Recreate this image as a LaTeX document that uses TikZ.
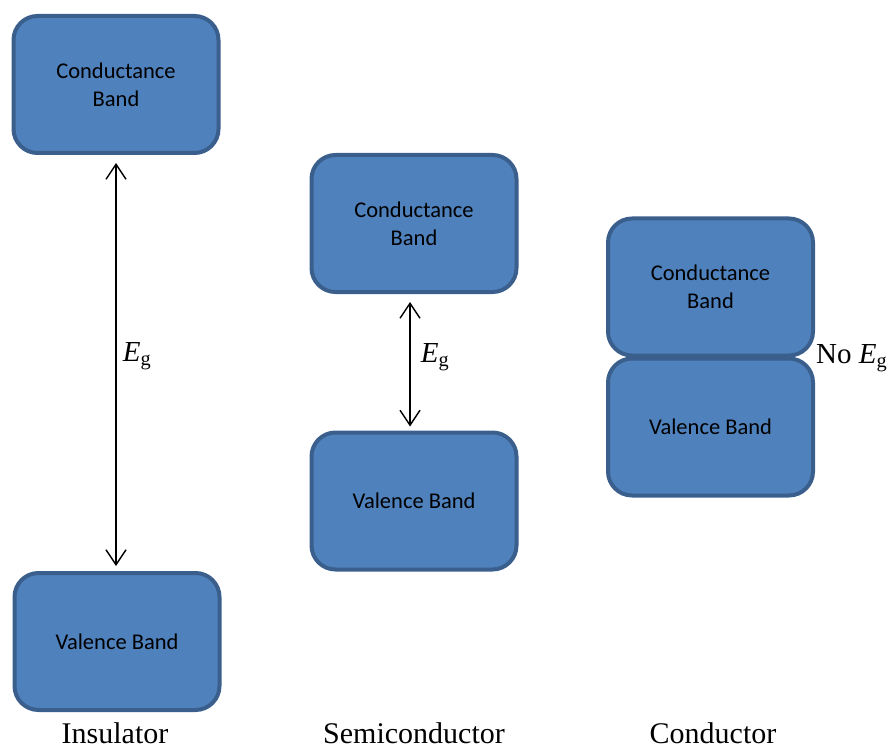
\documentclass[tikz,border=0pt]{standalone}
\usepackage{fontspec}
\setmainfont{Liberation Serif}
\newfontfamily\boxfont{Carlito}
\usetikzlibrary{arrows.meta}
\definecolor{bandfill}{HTML}{4F81BD}
\definecolor{banddraw}{HTML}{3A5F8C}
\tikzset{
  band/.style={draw=banddraw, fill=bandfill, line width=4pt, rounded corners=24pt,
    minimum width=205pt, minimum height=137pt, align=center, inner sep=0pt,
    font=\boxfont\fontsize{22.5}{28}\selectfont},
  gaparrow/.style={line width=1.4pt, {Straight Barb[length=15pt,width=20pt,line width=1.4pt]}-{Straight Barb[length=15pt,width=20pt,line width=1.4pt]}},
  biglabel/.style={font=\fontsize{30}{32}\selectfont, inner sep=0pt},
  eglabel/.style={font=\fontsize{29}{32}\selectfont, inner sep=0pt}
}
\begin{document}
\begin{tikzpicture}[x=1pt,y=-1pt]
\useasboundingbox (0,0) rectangle (896,751);
% Insulator
\node[band] (icb) at (116,84.5) {Conductance\\Band};
\node[band] (ivb) at (117,641.5) {Valence Band};
\draw[gaparrow, shorten <=8pt, shorten >=5pt] (icb.south) -- (icb.south |- ivb.north);
\node[eglabel] (ieg) at (137,356) {\textit{E}\textsubscript{g}};
\node[biglabel] (ilab) at (115,733) {Insulator};
% Semiconductor
\node[band] (scb) at (414,223.5) {Conductance\\Band};
\node[band] (svb) at (414,501) {Valence Band};
\draw[gaparrow, shorten <=8pt, shorten >=4pt] ([xshift=-4pt]scb.south) -- ([xshift=-4pt]scb.south |- svb.north);
\node[eglabel] (seg) at (435,357) {\textit{E}\textsubscript{g}};
\node[biglabel] (slab) at (414,733) {Semiconductor};
% Conductor
\node[band] (ccb) at (710.5,287) {Conductance\\Band};
\node[band] (cvb) at (710.5,427) {Valence Band};
\node[eglabel, anchor=west] (ceg) at ([xshift=1pt,yshift=-1pt]ccb.south east) {No \textit{E}\textsubscript{g}};
\node[biglabel] (clab) at (713,733) {Conductor};
\end{tikzpicture}
\end{document}
